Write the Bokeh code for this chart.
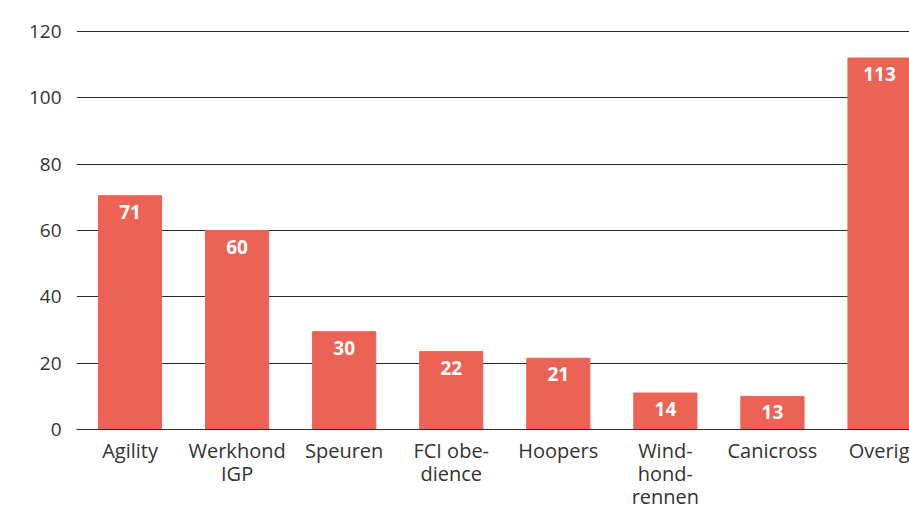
from bokeh.plotting import figure
from bokeh.models import FixedTicker, Range1d, ColumnDataSource
from bokeh.core.properties import value
from bokeh.embed import file_html
from bokeh.resources import INLINE

categories = ["Agility", "Werkhond\nIGP", "Speuren", "FCI obe-\ndience", "Hoopers",
              "Wind-\nhond-\nrennen", "Canicross", "Overig"]
bar_heights = [70.5, 60, 29.5, 23.5, 21.5, 11, 10, 112]
bar_labels = ["71", "60", "30", "22", "21", "14", "13", "113"]
y_ticks = [0, 20, 40, 60, 80, 100, 120]

xs = list(range(len(categories)))
src = ColumnDataSource(dict(x=xs, top=bar_heights, label=bar_labels))

p = figure(width=909, height=507, output_backend="svg", toolbar_location=None,
           x_range=Range1d(-0.5, 7.28), y_range=Range1d(-23.5, 120.3),
           min_border_left=76, min_border_right=0, min_border_top=30, min_border_bottom=0)
p.outline_line_color = None
p.background_fill_color = "white"
p.border_fill_color = "white"

p.vbar(x="x", top="top", width=0.59, color="#EC6254", source=src)
p.text(x="x", y="top", text="label", source=src, text_align="center", text_baseline="middle",
       y_offset=16, text_color="white", text_font=value("Open Sans"), text_font_style="bold",
       text_font_size="19px")

p.xgrid.grid_line_color = None
p.ygrid.ticker = FixedTicker(ticks=y_ticks)
p.ygrid.grid_line_color = "#2b2b2b"
p.ygrid.grid_line_width = 1

p.yaxis.ticker = FixedTicker(ticks=y_ticks)
p.yaxis.axis_line_color = None
p.yaxis.major_tick_line_color = None
p.yaxis.minor_tick_line_color = None
p.yaxis.major_label_standoff = 9
p.yaxis.major_label_text_font = "Open Sans"
p.yaxis.major_label_text_font_size = "19px"
p.yaxis.major_label_text_color = "#333333"

p.xaxis.fixed_location = 0
p.xaxis.ticker = FixedTicker(ticks=xs)
p.xaxis.major_label_overrides = {i: c for i, c in zip(xs, categories)}
p.xaxis.axis_line_color = "#2b2b2b"
p.xaxis.major_tick_line_color = None
p.xaxis.minor_tick_line_color = None
p.xaxis.major_label_standoff = 1
p.xaxis.major_label_text_font = "Open Sans"
p.xaxis.major_label_text_font_size = "20px"
p.xaxis.major_label_text_line_height = 0.86
p.xaxis.major_label_text_color = "#333333"

open("out.html", "w").write(file_html(p, INLINE))
